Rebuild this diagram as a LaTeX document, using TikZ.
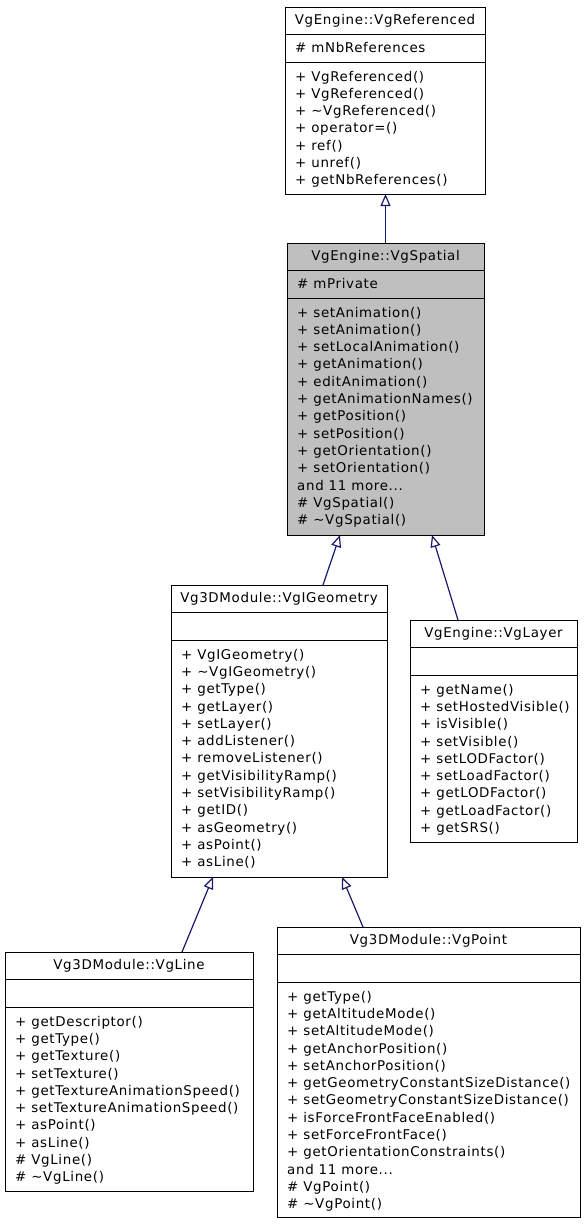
\documentclass[tikz,border=0pt]{standalone}
\usepackage{fontspec}
\setmainfont{DejaVu Sans}[LetterSpace=5]
\usetikzlibrary{arrows.meta}
\definecolor{edgeblue}{HTML}{191970}
\definecolor{spatialgray}{HTML}{BFBFBF}
\tikzset{
  boxline/.style={draw=black, line width=1.3pt},
  classbox/.style={boxline, rectangle, anchor=north west, inner sep=0pt},
  txt/.style={inner sep=0pt, text height=10pt, text depth=3pt, font=\fontsize{13.4}{15}\selectfont},
  row/.style={txt, anchor=west},
  ttl/.style={txt, anchor=center},
  inherit/.style={draw=edgeblue, line width=1.2pt, -{Triangle[open, length=12pt, width=10pt, line width=1.2pt]}}
}
% #1 name #2 left #3 top #4 right #5 bottom #6 extra style #7 title #8 attrs #9 methods
\newcommand{\umlclass}[9]{%
  \pgfmathsetmacro\bw{#4-#2}\pgfmathsetmacro\bh{#5-#3}%
  \node[classbox, #6, minimum width=\bw pt, minimum height=\bh pt] (#1) at (#2,#3) {};
  \draw[boxline] (#2,#3+27.5) -- (#4,#3+27.5);
  \draw[boxline] (#2,#3+55.5) -- (#4,#3+55.5);
  \node[ttl] (#1-title) at ({(#2+#4)/2},#3+14) {#7};
  \foreach \t [count=\i from 0] in {#8} {\node[row] (#1-a\i) at (#2+10,#3+41.5+\i*17.33) {\t};}
  \foreach \t [count=\i from 0] in {#9} {\node[row] (#1-m\i) at (#2+10,#3+70.5+\i*17.33) {\t};}
}
\begin{document}
\begin{tikzpicture}[x=1pt,y=-1pt]
\useasboundingbox (0,0) rectangle (584,1224);

\umlclass{ref}{285}{7}{485}{194}{fill=white}{VgEngine::VgReferenced}{\# mNbReferences}
 {+ VgReferenced(),+ VgReferenced(),+ \textasciitilde VgReferenced(),+ operator=(),+ ref(),+ unref(),+ getNbReferences()}

\umlclass{spatial}{287}{243}{484}{535}{fill=spatialgray}{VgEngine::VgSpatial}{\# mPrivate}
 {+ setAnimation(),+ setAnimation(),+ setLocalAnimation(),+ getAnimation(),+ editAnimation(),+ getAnimationNames(),+ getPosition(),+ setPosition(),+ getOrientation(),+ setOrientation(),and 11 more{.}{.}{.},\# VgSpatial(),\# \textasciitilde VgSpatial()}

\umlclass{geom}{171}{585}{387}{877}{fill=white}{Vg3DModule::VgIGeometry}{}
 {+ VgIGeometry(),+ \textasciitilde VgIGeometry(),+ getType(),+ getLayer(),+ setLayer(),+ addListener(),+ removeListener(),+ getVisibilityRamp(),+ setVisibilityRamp(),+ getID(),+ asGeometry(),+ asPoint(),+ asLine()}

\umlclass{layer}{410}{620}{577}{842}{fill=white}{VgEngine::VgLayer}{}
 {+ getName(),+ setHostedVisible(),+ isVisible(),+ setVisible(),+ setLODFactor(),+ setLoadFactor(),+ getLODFactor(),+ getLoadFactor(),+ getSRS()}

\umlclass{line}{5}{952}{253}{1191}{fill=white}{Vg3DModule::VgLine}{}
 {+ getDescriptor(),+ getType(),+ getTexture(),+ setTexture(),+ getTextureAnimationSpeed(),+ setTextureAnimationSpeed(),+ asPoint(),+ asLine(),\# VgLine(),\# \textasciitilde VgLine()}

\umlclass{point}{277}{927}{580}{1217}{fill=white}{Vg3DModule::VgPoint}{}
 {+ getType(),+ getAltitudeMode(),+ setAltitudeMode(),+ getAnchorPosition(),+ setAnchorPosition(),+ getGeometryConstantSizeDistance(),+ setGeometryConstantSizeDistance(),+ isForceFrontFaceEnabled(),+ setForceFrontFace(),+ getOrientationConstraints(),and 11 more{.}{.}{.},\# VgPoint(),\# \textasciitilde VgPoint()}

% connector end points on the box borders
\coordinate (ref-in) at (385.5,194);
\coordinate (spatial-out) at (385.5,243);
\coordinate (spatial-in1) at (340,535);
\coordinate (spatial-in2) at (432,535);
\coordinate (geom-out) at (323,585);
\coordinate (layer-out) at (458,620);
\coordinate (geom-in1) at (213,877);
\coordinate (geom-in2) at (342,877);
\coordinate (line-out) at (182,952);
\coordinate (point-out) at (363,927);

\draw[inherit] (spatial-out) -- (ref-in);
\draw[inherit] (geom-out) -- (spatial-in1);
\draw[inherit] (layer-out) -- (spatial-in2);
\draw[inherit] (line-out) -- (geom-in1);
\draw[inherit] (point-out) -- (geom-in2);
\end{tikzpicture}
\end{document}
